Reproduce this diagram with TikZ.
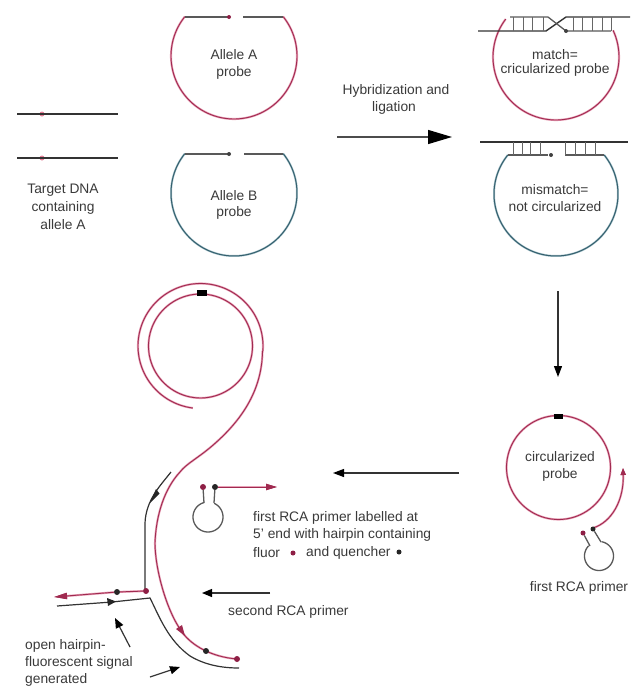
\documentclass[tikz,border=0pt]{standalone}
\usepackage{fontspec}
\setmainfont{Liberation Sans}
\usetikzlibrary{arrows.meta}
\definecolor{inkgrey}{HTML}{3A3A3A}
\definecolor{halopink}{HTML}{E8A0B6}
\definecolor{corepink}{HTML}{A02A50}
\definecolor{halogreen}{HTML}{A8C4CC}
\definecolor{coreteal}{HTML}{35606E}
\definecolor{dotred}{HTML}{8E1F45}
\definecolor{softred}{HTML}{E58098}
\tikzset{
  lbl/.style={font=\fontsize{13.8}{16}\selectfont,text=inkgrey,inner sep=0pt,align=center},
  lbll/.style={lbl,anchor=west,align=left},
  pinkline/.style={draw=corepink,line width=0.9pt,preaction={draw=halopink,line width=2.1pt}},
  tealline/.style={draw=coreteal,line width=1pt,preaction={draw=halogreen,line width=2pt}},
  blackline/.style={draw=black!80,line width=1.2pt},
  greyline/.style={draw=black!65,line width=1.3pt},
  hatch/.style={draw=black!60,line width=0.7pt},
  bigarrow/.style={draw=black!70,line width=1.3pt,-{Triangle[length=24pt,width=14pt,color=black]}},
  midarrow/.style={draw=black!80,line width=1.2pt,-{Triangle[length=11pt,width=8pt,color=black]}},
  smallarrow/.style={draw=black!80,line width=1.2pt,-{Triangle[length=10pt,width=8pt,color=black]}},
  reddot/.style={circle,fill=dotred,inner sep=0pt,minimum size=6pt},
  blackdot/.style={circle,fill=black!85,inner sep=0pt,minimum size=6pt},
  smalldot/.style={circle,fill=black!75,inner sep=0pt,minimum size=4pt},
  softdot/.style={circle,fill=softred,inner sep=0pt,minimum size=5pt},
  block/.style={rectangle,fill=black,inner sep=0pt,minimum width=10pt,minimum height=6pt},
}
\newcommand{\ringarc}[6]{\draw[#1] plot[domain=#5:#6,samples=90,smooth] ({#2+#4*cos(\x)},{#3+#4*sin(\x)});}
\begin{document}
\begin{tikzpicture}[x=1pt,y=-1pt]
\useasboundingbox (0,0) rectangle (635,688);
\fill[white] (0,0) rectangle (635,688);

% target DNA
\node[softdot] (ta) at (42,114) {};
\node[softdot] (tb) at (42,158) {};
\draw[blackline] (17,114) -- (118,114);
\draw[blackline] (17,158) -- (118,158);
\node[lbl] (t1) at (63,190) {Target DNA};
\node[lbl] (t2) at (63,208) {containing};
\node[lbl] (t3) at (63,225) {allele A};

% Allele A probe
\ringarc{pinkline}{234}{56}{63}{-38.6}{218.6}
\draw[greyline] (185,17) -- (229,17);
\draw[greyline] (243,17) -- (283,17);
\node[smalldot,fill=dotred] (da) at (229,17) {};
\node[lbl] (pa1) at (234,55) {Allele A};
\node[lbl] (pa2) at (234,73) {probe};

% Allele B probe
\ringarc{tealline}{234}{193}{63}{-38.6}{218.6}
\draw[greyline] (185,154) -- (229,154);
\draw[greyline] (244,154) -- (283,154);
\node[smalldot] (db) at (229,154) {};
\node[lbl] (pb1) at (234,196) {Allele B};
\node[lbl] (pb2) at (234,213) {probe};

% Hybridization arrow
\node[lbl] (h1) at (396,91) {Hybridization and};
\node[lbl] (h2) at (394,108) {ligation};
\coordinate (ha) at (337,137);
\coordinate (hb) at (452,137);
\draw[bigarrow] (ha) -- (hb);

% match
\ringarc{pinkline}{556}{57}{63}{-25}{217}
\draw[blackline,line width=1.4pt] (478,31) -- (546,31) -- (566,17) -- (630,17);
\draw[greyline] (510,17) -- (548,17) -- (566,31) -- (611,31);
\foreach \hx in {513,523,532,543,573,582,592,602,611}
  \draw[hatch] (\hx,17) -- (\hx,31);
\node[smalldot] (dm) at (566,31) {};
\node[lbl] (m1) at (555,55) {match=};
\node[lbl] (m2) at (555,70) {cricularized probe};

% mismatch
\draw[blackline,line width=1.6pt] (480,142) -- (628,142);
\ringarc{tealline}{556}{194}{62}{-39}{219}
\draw[greyline] (508,155) -- (548,155);
\draw[greyline] (565,155) -- (604,155);
\foreach \hx in {513,522,530,540,565,575,585,595}
  \draw[hatch] (\hx,142) -- (\hx,155);
\node[smalldot] (dn) at (551,155) {};
\node[lbl] (n1) at (555,190) {mismatch=};
\node[lbl] (n2) at (555,207) {not circularized};

% down arrow
\coordinate (da1) at (558,291);
\coordinate (da2) at (558,377);
\draw[midarrow] (da1) -- (da2);

% circularized probe
\ringarc{pinkline}{558.5}{467.5}{52}{0}{360}
\node[block,minimum width=9pt,minimum height=5pt] (cb) at (558,416) {};
\node[lbl] (c1) at (560,457) {circularized};
\node[lbl] (c2) at (560,475) {probe};
\draw[pinkline,-{Triangle[length=7pt,width=5pt,color=corepink]}] (593,528) .. controls (612,522) and (624,500) .. (623,468);
\node[reddot,minimum size=5pt] (cr) at (583,533) {};
\node[blackdot,minimum size=5pt] (cq) at (593,529) {};
\draw[greyline] (cr) -- (590,546);
\draw[greyline] (cq) -- (601,542);
\ringarc{greyline}{599}{556}{14.5}{-80}{225}
\node[lbl] (c3) at (579,588) {first RCA primer};

% left arrow
\coordinate (la1) at (459,473);
\coordinate (la2) at (333,473);
\draw[midarrow] (la1) -- (la2);

% spiral product
\ringarc{pinkline}{200.5}{346}{52}{0}{360}
\ringarc{pinkline}{200.5}{346}{62.5}{97}{365}
\draw[pinkline] (262.5,351) .. controls (262,392) and (240,422) .. (212,446)
  .. controls (198,458) and (186,464) .. (180,472)
  .. controls (165,488) and (156,514) .. (155,543)
  .. controls (155,568) and (166,610) .. (182,632)
  .. controls (192,646) and (212,657) .. (237,659);
\node[block,minimum width=10pt,minimum height=6pt] (sb) at (202,293) {};
\node[reddot] (sr) at (237,659) {};
\node[blackdot] (sq) at (206,651) {};
\fill[corepink] (185,636) -- (182,625) -- (176,629) -- cycle;

% second strand upper
\draw[blackline] (171,472) .. controls (160,486) and (146,500) .. (145,523) -- (145,590);
\fill[black!85] (150,503) -- (156,489) -- (159.5,493.5) -- cycle;

% displaced strands
\node[reddot] (lr) at (146,591) {};
\node[blackdot] (lq) at (117,592) {};
\coordinate (lend) at (54,597);
\draw[pinkline,-{Triangle[length=13pt,width=6pt,color=corepink]}] (lr) -- (lq) -- (lend);
\draw[blackline] (57,606) -- (112,602) -- (150,598) .. controls (160,618) and (168,640) .. (190,656) .. controls (205,665) and (222,668) .. (239,668);
\fill[black!85] (107,598) -- (116,601.5) -- (108,606) -- cycle;

% hairpin with primer
\node[reddot] (hr) at (203,487) {};
\node[blackdot] (hq) at (215,487) {};
\coordinate (hend) at (277,487);
\draw[pinkline,-{Triangle[length=11pt,width=6pt,color=corepink]}] (hq) -- (hend);
\draw[greyline] (hr) -- (204,503);
\draw[greyline] (hq) -- (214,503);
\ringarc{greyline}{208}{517}{15}{-66}{255}

% labels
\node[lbll] (f1) at (253,518) {first RCA primer labelled at};
\node[lbll] (f2) at (253,535) {5' end with hairpin containing};
\node[lbll] (f3) at (253,553) {fluor};
\node[reddot,minimum size=5pt] (f4) at (293,553) {};
\node[lbll] (f5) at (306,553) {and quencher};
\node[blackdot,minimum size=5pt] (f6) at (399,552) {};

\coordinate (sa1) at (270,593);
\coordinate (sa2) at (202,593);
\draw[smallarrow] (sa1) -- (sa2);
\node[lbll] (s1) at (228,612) {second RCA primer};

\node[lbll] (o1) at (25,646) {open hairpin-};
\node[lbll] (o2) at (25,663) {fluorescent signal};
\node[lbll] (o3) at (25,680) {generated};
\coordinate (oa1) at (130,647);
\coordinate (oa2) at (115,618);
\coordinate (ob1) at (150,677);
\coordinate (ob2) at (180,667);
\draw[smallarrow] (oa1) -- (oa2);
\draw[smallarrow] (ob1) -- (ob2);
\end{tikzpicture}
\end{document}
